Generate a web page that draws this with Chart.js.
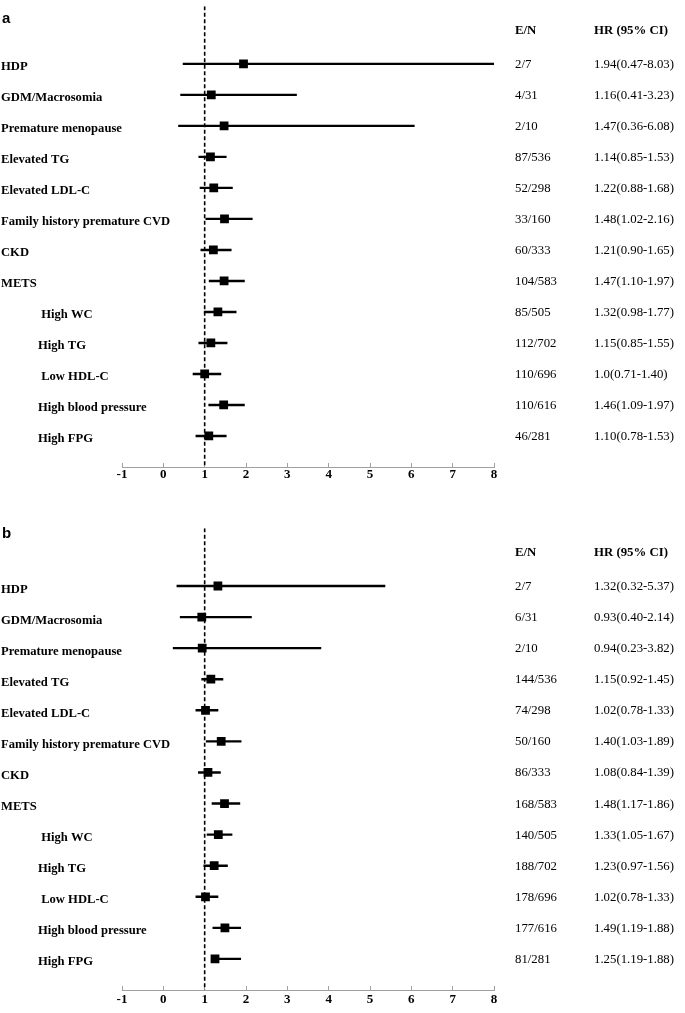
<!DOCTYPE html>
<html>
<head>
<meta charset="utf-8">
<script src="https://cdn.jsdelivr.net/npm/chart.js@4.4.1/dist/chart.umd.min.js"></script>
<style>
  html, body { margin: 0; padding: 0; background: #fff; }
  #wrap { position: relative; width: 685px; height: 1013px; overflow: hidden; }
  canvas { position: absolute; left: 0; }
</style>
</head>
<body>
<div id="wrap">
  <canvas id="chartA" width="685" height="506" style="top:0px"></canvas>
  <canvas id="chartB" width="685" height="491" style="top:522px"></canvas>
</div>
<script>
// ---------- DATA ----------
const categories = ["HDP", "GDM/Macrosomia", "Premature menopause", "Elevated TG", "Elevated LDL-C",
  "Family history premature CVD", "CKD", "METS", " High WC", "High TG", " Low HDL-C",
  "High blood pressure", "High FPG"];
const isSubItem = [false, false, false, false, false, false, false, false, true, true, true, true, true];

const xTicks = [-1, 0, 1, 2, 3, 4, 5, 6, 7, 8];
const refLine = 1;

// Panel a
const enA = ["2/7", "4/31", "2/10", "87/536", "52/298", "33/160", "60/333", "104/583", "85/505", "112/702", "110/696", "110/616", "46/281"];
const hrA = [1.94, 1.16, 1.47, 1.14, 1.22, 1.48, 1.21, 1.47, 1.32, 1.15, 1.0, 1.46, 1.10];
const loA = [0.47, 0.41, 0.36, 0.85, 0.88, 1.02, 0.90, 1.10, 0.98, 0.85, 0.71, 1.09, 0.78];
const hiA = [8.03, 3.23, 6.08, 1.53, 1.68, 2.16, 1.65, 1.97, 1.77, 1.55, 1.40, 1.97, 1.53];
const hrTextA = ["1.94(0.47-8.03)", "1.16(0.41-3.23)", "1.47(0.36-6.08)", "1.14(0.85-1.53)", "1.22(0.88-1.68)",
  "1.48(1.02-2.16)", "1.21(0.90-1.65)", "1.47(1.10-1.97)", "1.32(0.98-1.77)", "1.15(0.85-1.55)",
  "1.0(0.71-1.40)", "1.46(1.09-1.97)", "1.10(0.78-1.53)"];

// Panel b
const enB = ["2/7", "6/31", "2/10", "144/536", "74/298", "50/160", "86/333", "168/583", "140/505", "188/702", "178/696", "177/616", "81/281"];
const hrB = [1.32, 0.93, 0.94, 1.15, 1.02, 1.40, 1.08, 1.48, 1.33, 1.23, 1.02, 1.49, 1.25];
const loB = [0.32, 0.40, 0.23, 0.92, 0.78, 1.03, 0.84, 1.17, 1.05, 0.97, 0.78, 1.19, 1.19];
const hiB = [5.37, 2.14, 3.82, 1.45, 1.33, 1.89, 1.39, 1.86, 1.67, 1.56, 1.33, 1.88, 1.88];
const hrTextB = ["1.32(0.32-5.37)", "0.93(0.40-2.14)", "0.94(0.23-3.82)", "1.15(0.92-1.45)", "1.02(0.78-1.33)",
  "1.40(1.03-1.89)", "1.08(0.84-1.39)", "1.48(1.17-1.86)", "1.33(1.05-1.67)", "1.23(0.97-1.56)",
  "1.02(0.78-1.33)", "1.49(1.19-1.88)", "1.25(1.19-1.88)"];

const headerEN = "E/N";
const headerHR = "HR (95% CI)";

// ---------- CHART ----------
const Y_MIN = -1.86, Y_MAX = 13;
const SERIF = '"Liberation Serif", "Times New Roman", serif';
const SANS = '"Liberation Sans", Arial, sans-serif';

function makeChart(canvasId, panelLetter, letterY, hr, lo, hi, en, hrText, padBottom, tickPad) {
  const ciSets = hr.map((v, i) => ({
    type: 'line',
    data: [{x: lo[i], y: i}, {x: hi[i], y: i}],
    borderColor: '#000', borderWidth: 2.4, pointRadius: 0, showLine: true, order: 2
  }));
  const refSet = {
    type: 'line',
    data: [{x: refLine, y: Y_MIN}, {x: refLine, y: Y_MAX}],
    borderColor: '#000', borderWidth: 1.6, borderDash: [4, 2.5], pointRadius: 0, showLine: true, order: 3
  };
  const pointSet = {
    type: 'scatter',
    data: hr.map((v, i) => ({x: v, y: i})),
    pointStyle: 'rect', pointRadius: 6.2, pointHoverRadius: 6.2,
    backgroundColor: '#000', borderColor: '#000', borderWidth: 0, order: 1
  };

  const textPlugin = {
    id: 'forestText_' + canvasId,
    afterDraw(chart) {
      const ctx = chart.ctx;
      const ys = chart.scales.y;
      ctx.save();
      ctx.fillStyle = '#000';
      ctx.textAlign = 'left';
      ctx.textBaseline = 'alphabetic';
      // panel letter
      ctx.font = 'bold 15px ' + SANS;
      ctx.fillText(panelLetter, 2, letterY);
      // category labels
      ctx.font = 'bold 12.6px ' + SERIF;
      categories.forEach((c, i) => {
        const x = isSubItem[i] ? 38 : 1;
        ctx.fillText(c, x, ys.getPixelForValue(i) + 6.5);
      });
      // headers
      const hy = ys.getPixelForValue(-1.12) + 4.5;
      ctx.font = 'bold 12.8px ' + SERIF;
      ctx.fillText(headerEN, 515, hy);
      ctx.fillText(headerHR, 594, hy);
      // columns
      ctx.font = '12.8px ' + SERIF;
      en.forEach((t, i) => ctx.fillText(t, 515, ys.getPixelForValue(i) + 4));
      hrText.forEach((t, i) => ctx.fillText(t, 594, ys.getPixelForValue(i) + 4));
      ctx.restore();
    }
  };

  return new Chart(document.getElementById(canvasId), {
    type: 'scatter',
    data: { datasets: [pointSet, ...ciSets, refSet] },
    options: {
      responsive: false,
      animation: false,
      events: [],
      layout: { padding: { left: 122, right: 191, top: 5, bottom: padBottom } },
      plugins: { legend: { display: false }, tooltip: { enabled: false } },
      scales: {
        x: {
          type: 'linear', position: 'bottom', min: -1, max: 8,
          afterBuildTicks: (s) => { s.ticks = xTicks.map(v => ({value: v})); },
          afterFit: (s) => { s.height = 20; },
          ticks: { color: '#000', padding: tickPad, font: { family: SERIF, size: 13, weight: 'bold' } },
          grid: { drawOnChartArea: false, drawTicks: true, tickLength: -4, color: '#a0a0a0', lineWidth: 1 },
          border: { display: true, color: '#a0a0a0', width: 1 }
        },
        y: {
          type: 'linear', display: false, reverse: true, min: Y_MIN, max: Y_MAX
        }
      }
    },
    plugins: [textPlugin]
  });
}

makeChart('chartA', 'a', 23, hrA, loA, hiA, enA, hrTextA, 19, 4);
makeChart('chartB', 'b', 16, hrB, loB, hiB, enB, hrTextB, 3, 6);
</script>
</body>
</html>
